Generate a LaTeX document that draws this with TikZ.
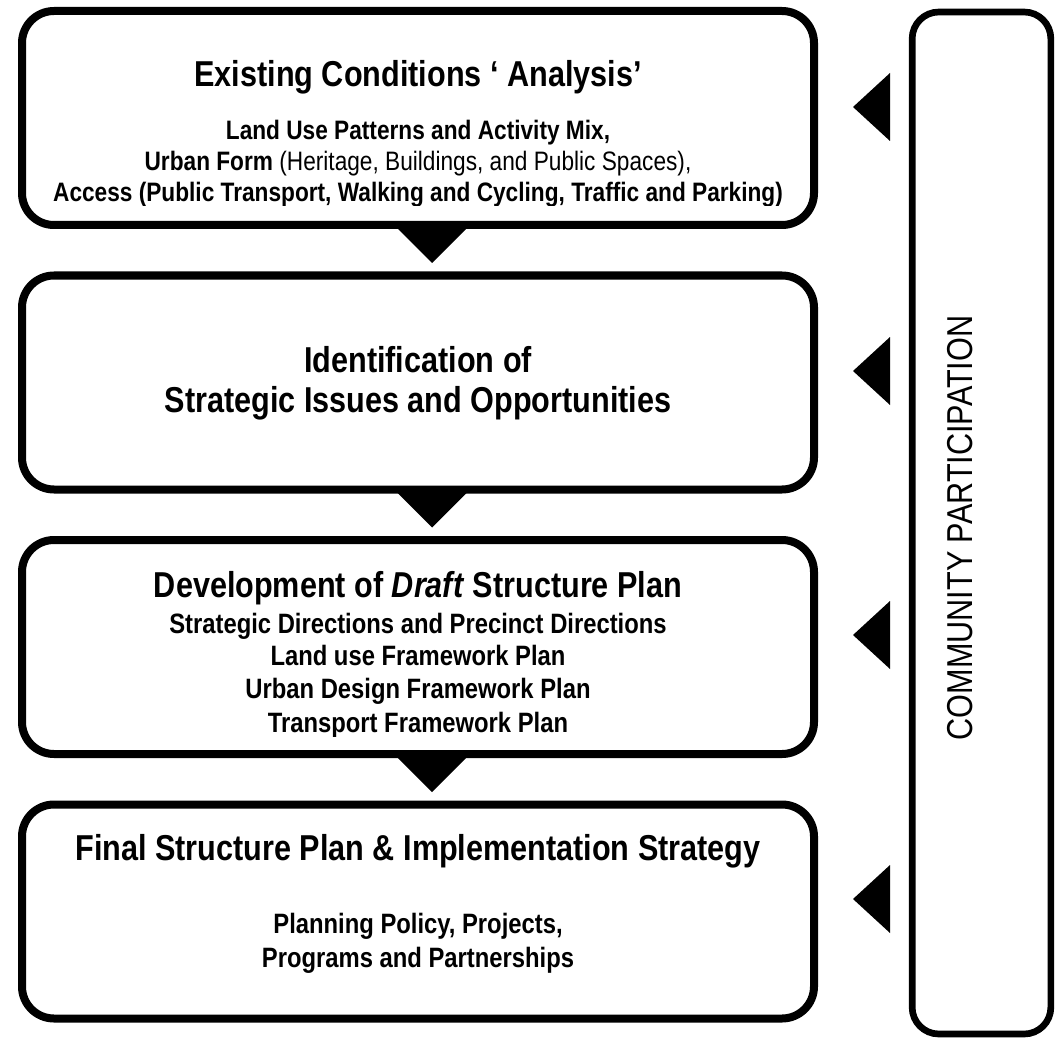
\documentclass[tikz,border=0pt]{standalone}
\usepackage{fontspec}
\setmainfont{Liberation Sans}[FakeStretch=0.85]
\usetikzlibrary{calc}
\tikzset{
    stagebox/.style={draw, line width=6pt, rounded corners=24pt, inner sep=0pt, outer sep=0pt, minimum width=594pt, minimum height=160.5pt},
    partbox/.style={draw, line width=5pt, rounded corners=20pt, inner sep=0pt, outer sep=0pt, minimum width=104pt, minimum height=766.5pt},
    titletext/.style={anchor=base, inner sep=0pt, font=\fontsize{27}{30}\selectfont\bfseries},
    subtext/.style={anchor=base, inner sep=0pt, font=\fontsize{20}{24}\selectfont\bfseries},
    listtext/.style={anchor=base, inner sep=0pt, font=\fontsize{21}{24}\selectfont\bfseries},
    parttext/.style={rotate=90, inner sep=0pt, font=\fontsize{27}{30}\selectfont}
}
\begin{document}
\begin{tikzpicture}[x=0.75pt, y=-0.75pt]
    \useasboundingbox (0,0) rectangle (1063,1041);

    % stages
    \node[stagebox] (box1) at (418,118) {};
    \node[stagebox] (box2) at (418,382.5) {};
    \node[stagebox] (box3) at (418,647) {};
    \node[stagebox] (box4) at (418,911.5) {};
    \node[partbox] (part) at (981.5,523) {};

    % arrows between the stages
    \foreach \b in {box1,box2,box3}
        \fill ($(\b.south)+(-24,0)$) -- ($(\b.south)+(52,0)$) -- ($(\b.south)+(14,38)$) -- cycle;
    \foreach \y in {107,371,635,899}
        \fill (853,\y) -- (890,\y-34) -- (890,\y+34) -- cycle;

    \node[titletext] (t1) at (418,87) {Existing Conditions ‘ Analysis’};
    \node[subtext] (s1a) at (418,140) {Land Use Patterns and Activity Mix,};
    \node[subtext] (s1b) at (418,171) {Urban Form {\mdseries(Heritage, Buildings, and Public Spaces),}};
    \begin{scope}
        \clip (22,11) rectangle (814,206);
        \node[subtext] (s1c) at (418,202) {Access (Public Transport, Walking and Cycling, Traffic and Parking)};
    \end{scope}

    \node[titletext] (t2a) at (418,372) {Identification of};
    \node[titletext] (t2b) at (418,412) {Strategic Issues and Opportunities};

    \node[titletext] (t3) at (418,597) {Development of \textit{Draft} Structure Plan};
    \node[listtext] (s3a) at (418,633) {Strategic Directions and Precinct Directions};
    \node[listtext] (s3b) at (418,665) {Land use Framework Plan};
    \node[listtext] (s3c) at (418,698) {Urban Design Framework Plan};
    \begin{scope}
        \clip (22,541) rectangle (814,736);
        \node[listtext] (s3d) at (418,732) {Transport Framework Plan};
    \end{scope}

    \node[titletext] (t4) at (418,860) {Final Structure Plan \& Implementation Strategy};
    \node[listtext] (s4a) at (418,933) {Planning Policy, Projects,};
    \node[listtext] (s4b) at (418,967) {Programs and Partnerships};

    \node[parttext] (ptxt) at (960,528) {COMMUNITY PARTICIPATION};
\end{tikzpicture}
\end{document}
